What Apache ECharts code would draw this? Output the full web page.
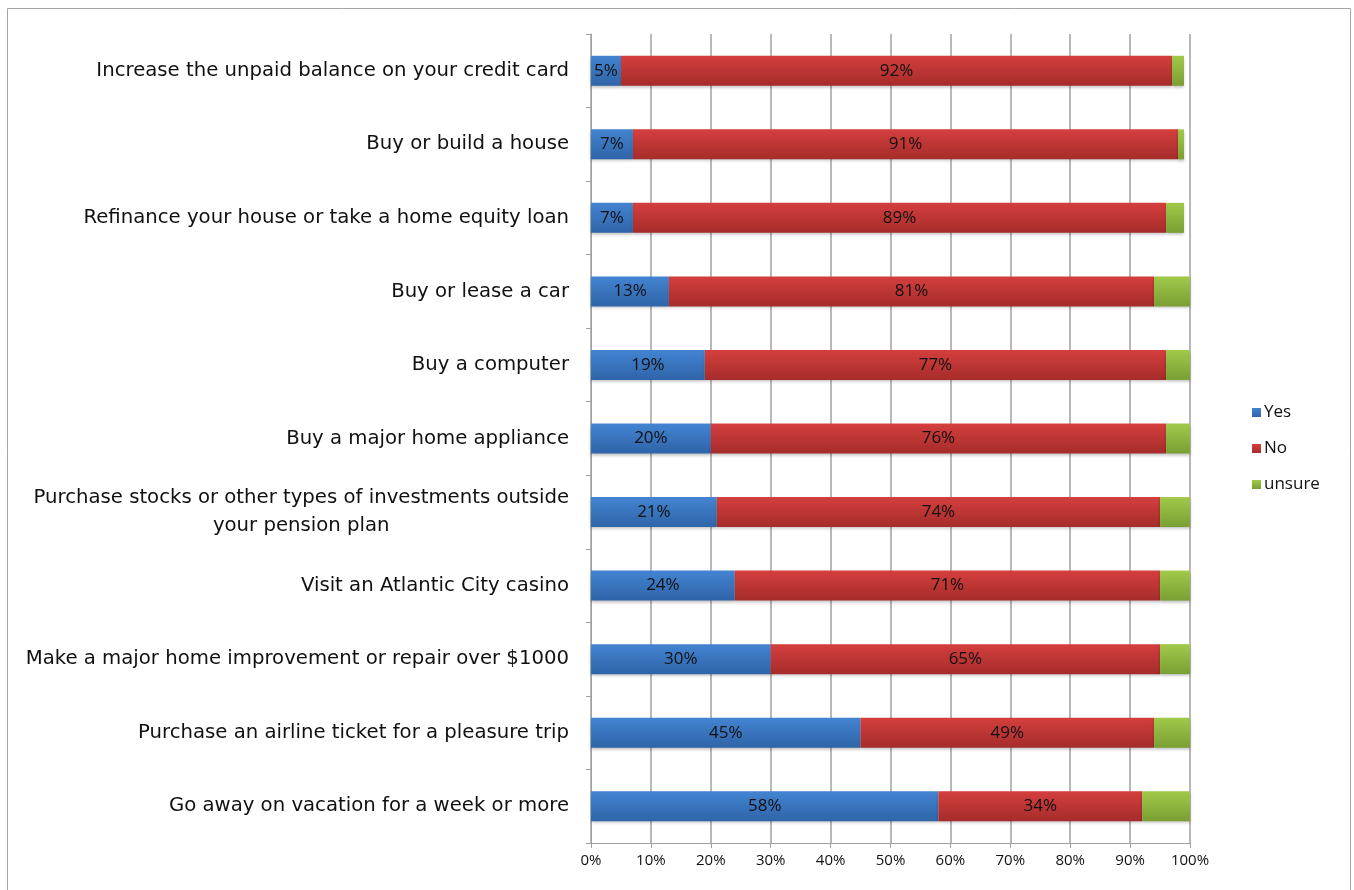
<!DOCTYPE html>
<html>
<head>
<meta charset="utf-8">
<script src="https://cdn.jsdelivr.net/npm/echarts@6/dist/echarts.min.js"></script>
<style>
  html, body { margin: 0; padding: 0; background: #fff; }
  #chart { width: 1354px; height: 890px; }
</style>
</head>
<body>
<div id="chart"></div>
<script>
  // data, top to bottom
  var categories = [
    'Increase the unpaid balance on your credit card',
    'Buy or build a house',
    'Refinance your house or take a home equity loan',
    'Buy or lease a car',
    'Buy a computer',
    'Buy a major home appliance',
    'Purchase stocks or other types of investments outside\nyour pension plan',
    'Visit an Atlantic City casino',
    'Make a major home improvement or repair over $1000',
    'Purchase an airline ticket for a pleasure trip',
    'Go away on vacation for a week or more'
  ];
  var yesValues = [5, 7, 7, 13, 19, 20, 21, 24, 30, 45, 58];
  var noValues = [92, 91, 89, 81, 77, 76, 74, 71, 65, 49, 34];
  var unsureValues = [2, 1, 3, 6, 4, 4, 5, 5, 5, 6, 8];
  var xTicks = [0, 10, 20, 30, 40, 50, 60, 70, 80, 90, 100];

  function grad(top, bottom) {
    return new echarts.graphic.LinearGradient(0, 0, 0, 1, [
      { offset: 0, color: top },
      { offset: 1, color: bottom }
    ]);
  }

  var FONT = '"Open Sans", sans-serif';
  var CAT_FONT = '"DejaVu Sans", sans-serif';
  var myChart = echarts.init(document.getElementById('chart'));

  var barLabel = {
    show: true,
    position: 'inside',
    color: '#111',
    fontSize: 17,
    fontFamily: FONT,
    formatter: '{c}%'
  };

  myChart.setOption({
    animation: false,
    graphic: [{
      type: 'rect',
      shape: { x: 7.5, y: 8.5, width: 1343, height: 900 },
      style: { fill: 'none', stroke: '#a6a6a6', lineWidth: 1 },
      silent: true
    }],
    legend: {
      orient: 'vertical',
      left: 1247,
      top: 399,
      itemWidth: 9,
      itemHeight: 9,
      itemGap: 19,
      icon: 'rect',
      textStyle: { fontSize: 17, color: '#111', fontFamily: FONT, padding: [0, 0, 0, -2] },
      data: ['Yes', 'No', 'unsure']
    },
    grid: { left: 591, right: 164, top: 34, bottom: 47, containLabel: false },
    xAxis: {
      type: 'value',
      min: 0,
      max: 100,
      interval: 10,
      axisLine: { show: true, lineStyle: { color: '#a0a0a0' } },
      axisTick: { show: true, length: 5, lineStyle: { color: '#a0a0a0' } },
      axisLabel: {
        fontSize: 15, color: '#111', fontFamily: FONT, margin: 10,
        formatter: function (v) { return xTicks.indexOf(v) >= 0 ? v + '%' : ''; }
      },
      splitLine: { show: true, lineStyle: { color: '#a0a0a0', width: 1.5 } }
    },
    yAxis: {
      type: 'category',
      inverse: true,
      data: categories,
      axisLine: { show: true, lineStyle: { color: '#a0a0a0' } },
      axisTick: { show: true, length: 5, lineStyle: { color: '#a0a0a0' } },
      axisLabel: {
        fontSize: 19.7, color: '#111', fontFamily: CAT_FONT, margin: 22, lineHeight: 28,
        formatter: function (v) {
          return v.split('\n').map(function (s) { return '{c|' + s + '}'; }).join('\n');
        },
        rich: { c: { fontSize: 19.7, color: '#111', fontFamily: CAT_FONT, align: 'center', lineHeight: 28 } }
      }
    },
    series: [{
      name: 'Yes',
      type: 'bar',
      stack: 'total',
      barWidth: 30,
      color: '#3f78c2',
      itemStyle: { color: grad('#4384d2', '#2f64a8'), shadowColor: 'rgba(0,0,0,0.25)', shadowBlur: 3, shadowOffsetY: 2 },
      label: barLabel,
      data: yesValues
    }, {
      name: 'No',
      type: 'bar',
      stack: 'total',
      color: '#c83c3a',
      itemStyle: { color: grad('#d43f3d', '#a52c2b'), shadowColor: 'rgba(0,0,0,0.25)', shadowBlur: 3, shadowOffsetY: 2 },
      label: barLabel,
      data: noValues
    }, {
      name: 'unsure',
      type: 'bar',
      stack: 'total',
      color: '#8fb53f',
      itemStyle: { color: grad('#a1c94a', '#7a9f33'), shadowColor: 'rgba(0,0,0,0.25)', shadowBlur: 3, shadowOffsetY: 2 },
      label: { show: false },
      data: unsureValues
    }]
  });

  window.addEventListener('resize', function () {
    myChart.resize();
  });
</script>
</body>
</html>
